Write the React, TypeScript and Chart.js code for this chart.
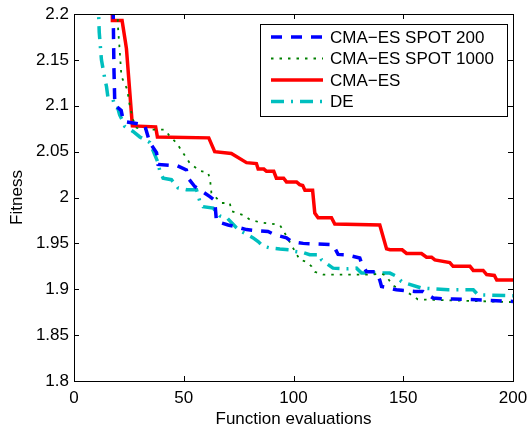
import React, { useEffect, useRef } from "react";
import { Chart, registerables } from "chart.js";

Chart.register(...registerables);

const seriesNames = ["CMA−ES SPOT 200", "CMA−ES SPOT 1000", "CMA−ES", "DE"];
const xTicks = [0, 50, 100, 150, 200];
const yTicks = [1.8, 1.85, 1.9, 1.95, 2, 2.05, 2.1, 2.15, 2.2];
const yTickLabels = ["1.8", "1.85", "1.9", "1.95", "2", "2.05", "2.1", "2.15", "2.2"];

const blueX = [17.6, 18.2, 18.6, 19.5, 21.5, 22.5, 27.7, 32.2, 34.5, 37.6, 38.3, 43.6, 46.7, 51.2, 52, 55, 57.3, 61.9, 64.1, 64.9, 70.2, 73.2, 78.6, 82.5, 88.4, 91.5, 96.8, 99.1, 104.4, 118, 120.3, 124.2, 130.2, 131, 133.3, 137.8, 139.3, 140.1, 142.4, 146.9, 155.3, 159, 163.6, 168.2, 172.7, 183.4, 200];
const blueY = [2.25, 2.14, 2.101, 2.099, 2.095, 2.083, 2.081, 2.079, 2.06, 2.049, 2.036, 2.035, 2.035, 2.03, 2.021, 2.012, 2.0085, 2.001, 1.997, 1.974, 1.97, 1.9685, 1.965, 1.964, 1.963, 1.9594, 1.956, 1.952, 1.95, 1.9485, 1.938, 1.9376, 1.934, 1.9285, 1.919, 1.919, 1.91, 1.903, 1.902, 1.8994, 1.8976, 1.8976, 1.8904, 1.8895, 1.8893, 1.8885, 1.8867];

const greenX = [19.6, 20, 20.8, 21.6, 24.2, 25.4, 26.9, 28.5, 34, 41.3, 43.6, 46.7, 49.7, 52.7, 57.3, 61.1, 62, 62.6, 67.2, 71, 71.7, 77, 80.1, 84.6, 90, 93.8, 96.8, 99.8, 102.9, 105.9, 108.2, 109.7, 113.5, 134.8, 140, 142, 145.3, 153, 156.6, 170, 200];
const greenY = [2.25, 2.187, 2.161, 2.132, 2.118, 2.1, 2.085, 2.076, 2.074, 2.074, 2.067, 2.0595, 2.0486, 2.0376, 2.029, 2.027, 2.019, 2.005, 1.994, 1.994, 1.985, 1.981, 1.976, 1.973, 1.9714, 1.97, 1.958, 1.945, 1.932, 1.93, 1.925, 1.919, 1.916, 1.916, 1.917, 1.915, 1.904, 1.895, 1.889, 1.888, 1.886];

const redX = [17.3, 17.5, 21.9, 23.4, 23.9, 26.6, 37.2, 38, 61.4, 64.1, 71.7, 78.6, 83.1, 83.9, 86.5, 87.7, 91, 92.2, 95.5, 96.8, 101.4, 102.8, 104.2, 105.2, 108.7, 109.7, 111.2, 117.3, 118.8, 139.3, 142.4, 144, 149.5, 151.5, 158.3, 160.6, 162.9, 164.4, 171.2, 172.7, 180.4, 181.9, 186.4, 188, 191.5, 192.6, 200];
const redY = [2.25, 2.193, 2.193, 2.17, 2.162, 2.078, 2.077, 2.066, 2.065, 2.05, 2.048, 2.038, 2.037, 2.031, 2.031, 2.0285, 2.0285, 2.021, 2.021, 2.017, 2.017, 2.014, 2.013, 2.008, 2.008, 1.983, 1.978, 1.978, 1.971, 1.97, 1.944, 1.943, 1.943, 1.939, 1.939, 1.935, 1.935, 1.932, 1.929, 1.925, 1.925, 1.9205, 1.9205, 1.916, 1.915, 1.91, 1.91];

const cyanX = [10.5, 11.5, 12.5, 14, 14.8, 15.5, 17.8, 18.6, 20, 20.8, 22.3, 23.1, 26.9, 30, 34.5, 38.3, 39, 40.6, 44.4, 47.4, 51.2, 55.8, 57.3, 58.8, 63.4, 66.4, 70, 74, 75.5, 81.6, 83.9, 86.1, 89.2, 93.8, 98.3, 100.6, 104.4, 107.4, 112, 112.8, 118, 124.2, 128.7, 131, 143.9, 147, 149.2, 151, 158.3, 170.5, 181.9, 184, 200];
const cyanY = [2.25, 2.18, 2.15, 2.13, 2.121, 2.1086, 2.1067, 2.0985, 2.097, 2.09, 2.083, 2.0776, 2.072, 2.066, 2.06, 2.038, 2.03, 2.021, 2.0194, 2.0104, 2.0085, 2.0085, 1.996, 1.99, 1.9885, 1.98, 1.977, 1.967, 1.964, 1.956, 1.952, 1.947, 1.945, 1.9438, 1.943, 1.9412, 1.94, 1.9376, 1.9376, 1.932, 1.923, 1.9223, 1.923, 1.9176, 1.9176, 1.914, 1.9085, 1.9067, 1.9013, 1.8994, 1.8994, 1.894, 1.893];

const colors = ["#0000ff", "#008000", "#ff0000", "#00bfbf"];
const dashes = [[11, 9], [2.5, 6], [], [13, 7, 2, 7]];
const widths = [3.5, 1.8, 3.5, 3.5];

const FONT = "'Liberation Sans', Arial, Helvetica, sans-serif";

function pts(xs: number[], ys: number[]) {
  return xs.map((x, i) => ({ x, y: ys[i] }));
}

const framePlugin = {
  id: "frame",
  afterDatasetsDraw(chart: any) {
    const { ctx, chartArea: a, scales } = chart;
    const xs = scales.x;
    const ys = scales.y;
    ctx.save();
    ctx.strokeStyle = "#000";
    ctx.lineWidth = 1;
    ctx.setLineDash([]);
    ctx.strokeRect(Math.round(a.left) + 0.5, Math.round(a.top) + 0.5, Math.round(a.right - a.left), Math.round(a.bottom - a.top));
    const tl = 5;
    ctx.beginPath();
    xTicks.forEach((v) => {
      const px = Math.round(xs.getPixelForValue(v)) + 0.5;
      ctx.moveTo(px, a.bottom);
      ctx.lineTo(px, a.bottom - tl);
      ctx.moveTo(px, a.top);
      ctx.lineTo(px, a.top + tl);
    });
    yTicks.forEach((v) => {
      const py = Math.round(ys.getPixelForValue(v)) + 0.5;
      ctx.moveTo(a.left, py);
      ctx.lineTo(a.left + tl, py);
      ctx.moveTo(a.right, py);
      ctx.lineTo(a.right - tl, py);
    });
    ctx.stroke();

    // legend
    const L = 260.5, T = 24.5, R = 507.5, B = 116.5;
    ctx.fillStyle = "#fff";
    ctx.fillRect(L, T, R - L, B - T);
    ctx.strokeStyle = "#000";
    ctx.lineWidth = 1;
    ctx.strokeRect(L, T, R - L, B - T);
    ctx.font = `17px ${FONT}`;
    ctx.textBaseline = "middle";
    ctx.textAlign = "left";
    seriesNames.forEach((name, i) => {
      const y = 37 + i * 21.5;
      ctx.beginPath();
      ctx.strokeStyle = colors[i];
      ctx.lineWidth = widths[i];
      ctx.setLineDash(dashes[i]);
      ctx.moveTo(271, y);
      ctx.lineTo(323, y);
      ctx.stroke();
      ctx.setLineDash([]);
      ctx.fillStyle = "#000";
      ctx.fillText(name, 330, y + 1);
    });
    ctx.restore();
  },
};

export default function App() {
  const ref = useRef<HTMLCanvasElement | null>(null);
  useEffect(() => {
    if (!ref.current) return;
    const all = [pts(blueX, blueY), pts(greenX, greenY), pts(redX, redY), pts(cyanX, cyanY)];
    const chart = new Chart(ref.current, {
      type: "line",
      data: {
        datasets: all.map((d, i) => ({
          label: seriesNames[i],
          data: d,
          borderColor: colors[i],
          backgroundColor: colors[i],
          borderWidth: widths[i],
          borderDash: dashes[i],
          pointRadius: 0,
          tension: 0,
          fill: false,
        })),
      },
      options: {
        responsive: false,
        animation: false,
        parsing: true,
        layout: { padding: { left: 0, right: 14, top: 14, bottom: 0 } },
        plugins: { legend: { display: false }, tooltip: { enabled: false } },
        scales: {
          x: {
            type: "linear",
            min: 0,
            max: 200,
            afterBuildTicks: (s: any) => {
              s.ticks = xTicks.map((v) => ({ value: v }));
            },
            afterFit: (s: any) => {
              s.height = 43;
              s.paddingLeft = 0;
              s.paddingRight = 0;
            },
            grid: { display: false, drawTicks: false },
            border: { display: false },
            ticks: {
              color: "#000",
              padding: 7,
              maxRotation: 0,
              font: { family: FONT, size: 17 },
              callback: (v: any) => String(v),
            },
            title: {
              display: true,
              text: "Function evaluations",
              color: "#000",
              font: { family: FONT, size: 17 },
              padding: { top: 0, bottom: -6 },
            },
          },
          y: {
            type: "linear",
            min: 1.8,
            max: 2.2,
            afterBuildTicks: (s: any) => {
              s.ticks = yTicks.map((v) => ({ value: v }));
            },
            afterFit: (s: any) => {
              s.width = 74;
              s.paddingTop = 0;
              s.paddingBottom = 0;
            },
            grid: { display: false, drawTicks: false },
            border: { display: false },
            ticks: {
              color: "#000",
              padding: 5,
              font: { family: FONT, size: 17 },
              callback: (v: any) => {
                const idx = yTicks.findIndex((t) => Math.abs(t - v) < 1e-6);
                return idx >= 0 ? yTickLabels[idx] : "";
              },
            },
            title: {
              display: true,
              text: "Fitness",
              color: "#000",
              font: { family: FONT, size: 17 },
              padding: { top: 7, bottom: 0 },
            },
          },
        },
      },
      plugins: [framePlugin],
    });
    return () => chart.destroy();
  }, []);
  return (
    <canvas
      ref={ref}
      width={527}
      height={424}
      style={{ position: "absolute", left: 0, top: 0, display: "block" }}
    />
  );
}
